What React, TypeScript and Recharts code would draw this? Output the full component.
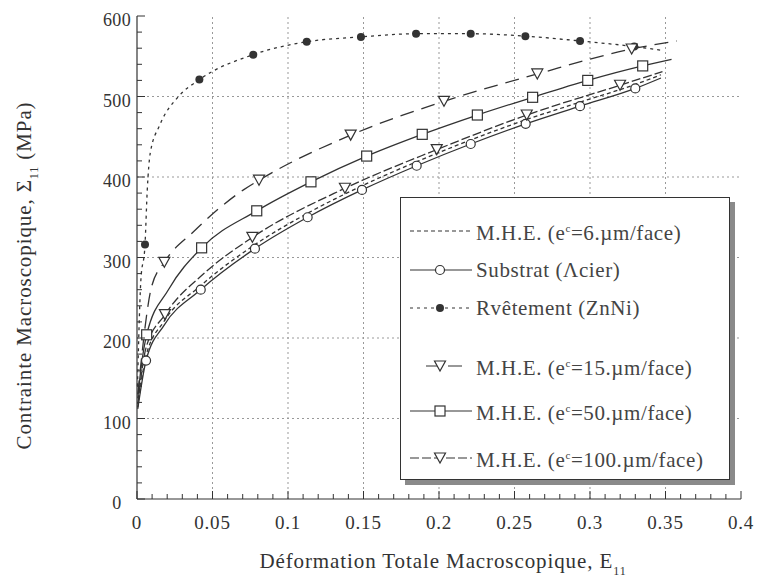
import React from "react";
import { ComposedChart, Line, Scatter, XAxis, YAxis, ReferenceLine, Legend } from "recharts";

type Pt = [number, number];

const INK = "#333";
const FONT = "'Liberation Serif', 'DejaVu Serif', serif";

// axes
const xTickValues = Array.from({ length: 41 }, (_, i) => i / 100);
const yTickValues = Array.from({ length: 31 }, (_, i) => i * 20);
const xGridValues = [0.05, 0.1, 0.15, 0.2, 0.25, 0.3, 0.35];
const yGridValues = [100, 200, 300, 400, 500];

// values: [E11, Sigma11 MPa]
// marks = where the symbols sit, extra = other points along the curve
const substratMarks: Pt[] = [
  [0.006, 172], [0.0422, 260], [0.0781, 311], [0.113, 350], [0.149, 384],
  [0.1852, 414], [0.221, 441], [0.2574, 466], [0.2934, 488], [0.33, 510],
];
const substratExtra: Pt[] = [[0.0005, 112], [0.018, 216], [0.347, 523]];

const mhe6Curve: Pt[] = [
  [0.0005, 114], [0.006, 178], [0.018, 221], [0.0422, 265], [0.0781, 316],
  [0.113, 355], [0.149, 389], [0.1852, 419], [0.221, 446], [0.2574, 471],
  [0.2934, 493], [0.33, 515], [0.347, 527],
];

const zincMarks: Pt[] = [
  [0.0053, 316], [0.0413, 521], [0.077, 552], [0.1124, 568], [0.1483, 574],
  [0.1848, 578], [0.221, 578], [0.2572, 575], [0.2934, 569], [0.3293, 562],
];
const zincExtra: Pt[] = [
  [0.0003, 140], [0.0025, 270], [0.0068, 384], [0.0088, 430],
  [0.0152, 465], [0.0275, 500], [0.349, 557],
];

const mhe15Marks: Pt[] = [
  [0.0181, 294], [0.0808, 396], [0.1415, 452], [0.2033, 494], [0.2651, 528], [0.3276, 559],
];
const mhe15Extra: Pt[] = [[0.0005, 130], [0.0097, 264], [0.0374, 332], [0.0705, 384], [0.3574, 569]];

const mhe50Marks: Pt[] = [
  [0.0064, 204], [0.0428, 312], [0.0793, 358], [0.1152, 394], [0.1521, 426],
  [0.1889, 453], [0.2254, 477], [0.262, 499], [0.2985, 520], [0.3349, 538],
];
const mhe50Extra: Pt[] = [[0.0005, 125], [0.0031, 169], [0.0208, 260], [0.354, 546]];

const mhe100Marks: Pt[] = [
  [0.0185, 229], [0.0764, 325], [0.1377, 386], [0.1985, 434], [0.2581, 477], [0.3199, 514],
];
const mhe100Extra: Pt[] = [[0.0005, 118], [0.006, 188], [0.0455, 282], [0.348, 531]];

const toRows = (pts: Pt[]) =>
  pts.map(([x, y]) => ({ x, y })).sort((a, b) => a.x - b.x);

type Kind = "none" | "circle" | "dot" | "tri" | "square";

const series = [
  { id: "mhe6", label: "M.H.E. (e", sup: "c", rest: "=6.\u00b5m/face)", curve: mhe6Curve, marks: [] as Pt[], dash: "4 3", kind: "none" as Kind },
  { id: "sub", label: "Substrat (\u039bcier)", curve: [...substratMarks, ...substratExtra], marks: substratMarks, dash: undefined, kind: "circle" as Kind },
  { id: "zn", label: "Rv\u00eatement (ZnNi)", curve: [...zincMarks, ...zincExtra], marks: zincMarks, dash: "3 4", kind: "dot" as Kind },
  { id: "mhe15", label: "M.H.E. (e", sup: "c", rest: "=15.\u00b5m/face)", curve: [...mhe15Marks, ...mhe15Extra], marks: mhe15Marks, dash: "14 8", kind: "tri" as Kind },
  { id: "mhe50", label: "M.H.E. (e", sup: "c", rest: "=50.\u00b5m/face)", curve: [...mhe50Marks, ...mhe50Extra], marks: mhe50Marks, dash: undefined, kind: "square" as Kind },
  { id: "mhe100", label: "M.H.E. (e", sup: "c", rest: "=100.\u00b5m/face)", curve: [...mhe100Marks, ...mhe100Extra], marks: mhe100Marks, dash: "9 3", kind: "tri" as Kind },
];

function Marker({ cx, cy, kind }: { cx?: number; cy?: number; kind: Kind }) {
  if (cx == null || cy == null) return null;
  if (kind === "circle") return <circle cx={cx} cy={cy} r={4.5} fill="#fff" stroke={INK} strokeWidth={1.2} />;
  if (kind === "dot") return <circle cx={cx} cy={cy} r={4} fill={INK} />;
  if (kind === "square") return <rect x={cx - 5} y={cy - 5} width={10} height={10} fill="#fff" stroke={INK} strokeWidth={1.2} />;
  if (kind === "tri")
    return <path d={`M${cx - 5.5},${cy - 5} L${cx + 5.5},${cy - 5} L${cx},${cy + 5} Z`} fill="#fff" stroke={INK} strokeWidth={1.2} />;
  return null;
}

const isMajor = (v: number, step: number) => Math.abs(v / step - Math.round(v / step)) < 1e-6;

function BottomTick({ x, y, payload }: any) {
  const v = payload.value;
  const major = isMajor(v, 0.05);
  return (
    <g>
      <line x1={x} x2={x} y1={y} y2={y - (major ? 8 : 5)} stroke={INK} />
      {major && (
        <text x={x} y={y + 30} textAnchor="middle" fontSize={19} letterSpacing={0.8} fill={INK} fontFamily={FONT}>
          {Number(v.toFixed(2)).toString()}
        </text>
      )}
    </g>
  );
}

function TopTick({ x, y, payload }: any) {
  const major = isMajor(payload.value, 0.05);
  return <line x1={x} x2={x} y1={y} y2={y + (major ? 8 : 5)} stroke={INK} />;
}

function LeftTick({ x, y, payload }: any) {
  const v = payload.value;
  const major = isMajor(v, 100);
  return (
    <g>
      <line x1={x} x2={x + (major ? 8 : 5)} y1={y} y2={y} stroke={INK} />
      {major && (
        <text x={x - 20} y={y + 10} textAnchor="middle" fontSize={18} letterSpacing={0.4} fill={INK} fontFamily={FONT}>
          {v}
        </text>
      )}
    </g>
  );
}

function RightTick({ x, y, payload }: any) {
  const major = isMajor(payload.value, 100);
  return <line x1={x} x2={x - (major ? 8 : 5)} y1={y} y2={y} stroke={INK} />;
}

function XTitle({ viewBox }: any) {
  const cx = viewBox.x + viewBox.width / 2 + 4;
  const y = viewBox.y + 69;
  return (
    <text x={cx} y={y} textAnchor="middle" fontSize={21} letterSpacing={0.9} fill={INK} fontFamily={FONT}>
      Déformation Totale Macroscopique, E
      <tspan dy={7} fontSize={12}>11</tspan>
    </text>
  );
}

function YTitle({ viewBox }: any) {
  const x = 31;
  const y = viewBox.y + viewBox.height / 2 + 18;
  return (
    <text x={x} y={y} transform={`rotate(-90, ${x}, ${y})`} textAnchor="middle" fontSize={21} letterSpacing={0.9} fill={INK} fontFamily={FONT}>
      Contrainte Macroscopique,{"  "}Σ
      <tspan dy={7} fontSize={12}>11</tspan>
      <tspan dy={-7}>{"  "}(MPa)</tspan>
    </text>
  );
}

function LegendSymbol({ dash, kind, id }: { dash?: string; kind: Kind; id: string }) {
  let x1 = 6, x2 = 68;
  if (id === "mhe15") { x1 = 22; x2 = 60; }
  return (
    <svg width={72} height={20} style={{ display: "block" }}>
      <line x1={x1} x2={x2} y1={10} y2={10} stroke={INK} strokeWidth={1.2} strokeDasharray={dash} />
      <Marker cx={36} cy={10} kind={kind} />
    </svg>
  );
}

const rowTops = [30, 72, 110, 165, 210, 257];

function LegendBox() {
  return (
    <div
      style={{
        position: "relative",
        width: 328,
        height: 281,
        border: `1.5px solid ${INK}`,
        background: "#fff",
        boxShadow: "5px 5px 0 #8a8a8a",
        fontFamily: FONT,
        color: "#444",
        fontSize: 21,
        letterSpacing: 0.6,
      }}
    >
      {series.map((s, i) => (
        <div
          key={s.id}
          style={{ position: "absolute", left: 3, top: rowTops[i] - 12, display: "flex", alignItems: "center", whiteSpace: "nowrap", lineHeight: "24px" }}
        >
          <LegendSymbol dash={s.dash} kind={s.kind} id={s.id} />
          <span>
            {s.label}
            {s.sup && <sup style={{ fontSize: 11 }}>{s.sup}</sup>}
            {s.rest}
          </span>
        </div>
      ))}
    </div>
  );
}

export default function App() {
  return (
    <div style={{ width: 758, height: 579, background: "#fff" }}>
      <style>{"body{margin:0}"}</style>
      <ComposedChart width={758} height={579} margin={{ top: 16, right: 17, bottom: 0, left: 0 }}>
        <XAxis
          xAxisId="b"
          dataKey="x"
          type="number"
          domain={[0, 0.4]}
          ticks={xTickValues}
          interval={0}
          tickSize={0}
          tickMargin={0}
          height={80}
          axisLine={{ stroke: INK, strokeWidth: 1.2 }}
          tickLine={false}
          tick={<BottomTick />}
          label={<XTitle />}
        />
        <XAxis
          xAxisId="t"
          dataKey="x"
          type="number"
          orientation="top"
          domain={[0, 0.4]}
          ticks={xTickValues}
          interval={0}
          tickSize={0}
          tickMargin={0}
          height={0}
          axisLine={{ stroke: INK, strokeWidth: 1.2 }}
          tickLine={false}
          tick={<TopTick />}
        />
        <YAxis
          yAxisId="l"
          dataKey="y"
          type="number"
          domain={[0, 600]}
          ticks={yTickValues}
          interval={0}
          tickSize={0}
          tickMargin={0}
          width={137}
          axisLine={{ stroke: INK, strokeWidth: 1.2 }}
          tickLine={false}
          tick={<LeftTick />}
          label={<YTitle />}
        />
        <YAxis
          yAxisId="r"
          dataKey="y"
          type="number"
          orientation="right"
          domain={[0, 600]}
          ticks={yTickValues}
          interval={0}
          tickSize={0}
          tickMargin={0}
          width={0}
          axisLine={{ stroke: INK, strokeWidth: 1.2 }}
          tickLine={false}
          tick={<RightTick />}
        />
        {xGridValues.map((v) => (
          <ReferenceLine key={"gx" + v} x={v} xAxisId="b" yAxisId="l" stroke="#999" strokeDasharray="2 3" />
        ))}
        {yGridValues.map((v) => (
          <ReferenceLine key={"gy" + v} y={v} xAxisId="b" yAxisId="l" stroke="#999" strokeDasharray="2 3" />
        ))}
        {series.map((s) => (
          <Line
            key={s.id}
            xAxisId="b"
            yAxisId="l"
            data={toRows(s.curve)}
            dataKey="y"
            type="monotone"
            stroke={INK}
            strokeWidth={1.3}
            strokeDasharray={s.dash}
            dot={false}
            activeDot={false}
            isAnimationActive={false}
          />
        ))}
        {series
          .filter((s) => s.marks.length > 0)
          .map((s) => (
            <Scatter
              key={"m" + s.id}
              xAxisId="b"
              yAxisId="l"
              data={toRows(s.marks)}
              dataKey="y"
              shape={(p: any) => <Marker cx={p.cx} cy={p.cy} kind={s.kind} />}
              isAnimationActive={false}
            />
          ))}
        <Legend
          layout="vertical"
          align="center"
          verticalAlign="middle"
          width={330}
          height={283}
          wrapperStyle={{ left: 400, top: 197, right: "auto", bottom: "auto", width: 330, height: 283 }}
          content={() => <LegendBox />}
        />
      </ComposedChart>
    </div>
  );
}
